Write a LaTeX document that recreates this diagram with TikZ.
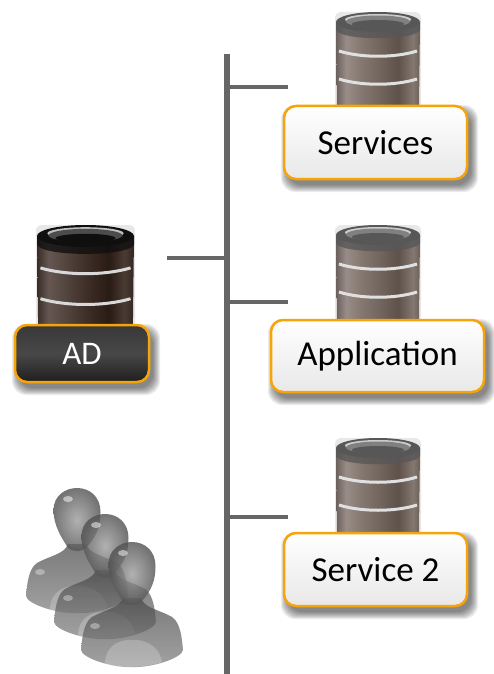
\documentclass[tikz,border=0pt]{standalone}
\usepackage{fontspec}
\setmainfont{Carlito}
\usetikzlibrary{calc}
\pgfdeclarehorizontalshading{cylLight}{100bp}{
 rgb(0bp)=(0.42,0.38,0.36);
 rgb(25bp)=(0.42,0.38,0.36);
 rgb(31bp)=(0.60,0.55,0.53);
 rgb(40bp)=(0.52,0.47,0.44);
 rgb(52bp)=(0.44,0.39,0.36);
 rgb(62bp)=(0.37,0.32,0.29);
 rgb(71bp)=(0.52,0.47,0.44);
 rgb(75bp)=(0.42,0.37,0.34);
 rgb(100bp)=(0.42,0.37,0.34)}
\pgfdeclarehorizontalshading{cylDark}{100bp}{
 rgb(0bp)=(0.2,0.16,0.14);
 rgb(25bp)=(0.22,0.18,0.16);
 rgb(31bp)=(0.40,0.34,0.32);
 rgb(40bp)=(0.32,0.27,0.24);
 rgb(52bp)=(0.23,0.17,0.14);
 rgb(62bp)=(0.16,0.11,0.08);
 rgb(70bp)=(0.29,0.23,0.20);
 rgb(75bp)=(0.20,0.15,0.13);
 rgb(100bp)=(0.20,0.15,0.13)}
\definecolor{tagline}{HTML}{F7A30A}
\definecolor{stem}{HTML}{666666}
\tikzset{
 x=1pt,y=-1pt,
 trunk/.style={draw=stem,line width=5.5pt},
 stub/.style={draw=stem,line width=4.5pt},
 taglight/.style={draw=tagline,line width=2.5pt,rounded corners=12pt,top color=white,bottom color=black!9,text=black,font=\fontsize{35}{40}\selectfont,inner sep=0pt},
 tagdark/.style={draw=tagline,line width=2.5pt,rounded corners=12pt,top color=black!78,bottom color=black!88,middle color=black!72,text=white,font=\fontsize{33}{38}\selectfont,inner sep=0pt},
 bandline/.style={draw=#1,line width=3pt}
}
% \cyl{left}{top}{width}{shading}{side}{rimdark}{rim}{band}
\newcommand{\cyl}[8]{
 \begin{scope}[shift={(#1,#2)},xscale=#3/84]
  \fill[black!25,opacity=.35,rounded corners=6pt] (-1,0) -- (-1,98) -- (85,98) -- (85,0) -- cycle;
  \shade[shading=#4] (0,11) -- (84,11) -- (83,95) -- (1,95) -- cycle;
  \fill[#5,opacity=.8] (0,10) -- (0,18) .. controls (5,29) and (79,29) .. (84,18) -- (84,10) -- cycle;
  \fill[#5] (42,10) ellipse[x radius=42,y radius=10];
  \fill[#7] (42,7.5) ellipse[x radius=33,y radius=5.5];
  \fill[#6] (42,9.5) ellipse[x radius=32,y radius=6];
  \fill[#5] (42,12) ellipse[x radius=26,y radius=4];
  \draw[bandline=#8] (3,39) .. controls (25,46) and (59,46) .. (81,39);
  \draw[bandline=#8] (3,67) .. controls (25,74) and (59,74) .. (81,67);
 \end{scope}
}
% \tagshadow{cx}{cy}{w}{h}
\newcommand{\tagshadow}[4]{
 \foreach \k in {7,6,...,0}{
  \fill[black,opacity=.075,rounded corners=14pt]
   (#1-#3/2+4-\k,#2-#4/2+6-\k) rectangle (#1+#3/2+4+\k,#2+#4/2+6+\k);
 }
}
\newcommand{\personfig}[2]{
 \begin{scope}[shift={(#1,#2)}]
  \shade[top color=black!72,bottom color=black!50,fill opacity=.72]
   (-9,56) .. controls (-12,66) and (-28,68) .. (-40,75)
   .. controls (-49,81) and (-50,98) .. (-51,108)
   .. controls (-50,116) and (-20,126) .. (0,125)
   .. controls (20,126) and (50,116) .. (51,108)
   .. controls (50,98) and (49,81) .. (40,75)
   .. controls (28,68) and (12,66) .. (9,56) -- cycle;
  \fill[white,opacity=.22] (-27,122) .. controls (-27,102) and (-10,97) .. (0,98) .. controls (10,97) and (27,102) .. (30,120) .. controls (14,126) and (-14,126) .. (-27,122) -- cycle;
  \fill[white,opacity=.35] (-37,84) ellipse[x radius=5,y radius=3];
  \shade[inner color=black!38,outer color=black!68,fill opacity=.8]
   (-23.5,22) .. controls (-23.5,8) and (-12,0) .. (0,0)
   .. controls (13,0) and (23.5,9) .. (23.5,24)
   .. controls (23.5,38) and (20,48) .. (9,60)
   .. controls (4,64) and (-4,64) .. (-9,60)
   .. controls (-15,50) and (-23.5,38) .. (-23.5,22) -- cycle;
  \fill[white,opacity=.5] (-9,11) ellipse[x radius=5,y radius=3];
 \end{scope}
}
\begin{document}
\begin{tikzpicture}
\useasboundingbox (0,0) rectangle (493,674);
\fill[white] (0,0) rectangle (493,674);
% connectors
\coordinate (trunkTop) at (227,54);
\coordinate (trunkEnd) at (227,674);
\coordinate (tapServices) at (227,87);
\coordinate (tapAD) at (227,258);
\coordinate (tapApp) at (227,302);
\coordinate (tapSvc) at (227,517);
\coordinate (endServices) at (288,87);
\coordinate (endAD) at (167,258);
\coordinate (endApp) at (288,302);
\coordinate (endSvc) at (288,517);
\draw[trunk] (trunkTop) -- (trunkEnd);
\draw[stub] (tapServices) -- (endServices);
\draw[stub] (tapAD) -- (endAD);
\draw[stub] (tapApp) -- (endApp);
\draw[stub] (tapSvc) -- (endSvc);
% cylinders
\cyl{336}{12}{84}{cylLight}{black!66}{black!50}{black!20}{white!88!black}
\cyl{336}{225}{84}{cylLight}{black!66}{black!50}{black!20}{white!88!black}
\cyl{336}{438}{84}{cylLight}{black!66}{black!50}{black!20}{white!88!black}
\begin{scope}[shift={(37,225)},yscale=1.1]
\cyl{0}{0}{97}{cylDark}{black!94}{black!70}{black!25}{white!85!black}
\end{scope}
% tags
\tagshadow{375.5}{142.5}{183}{73}
\tagshadow{377.5}{356}{213}{72}
\tagshadow{375.5}{569.5}{183}{73}
\tagshadow{82}{353.5}{134}{57}
\node[taglight,minimum width=183pt,minimum height=73pt] (services) at (375.5,142.5) {Services};
\node[taglight,minimum width=213pt,minimum height=72pt] (application) at (377.5,356) {Application};
\node[taglight,minimum width=183pt,minimum height=73pt] (service2) at (375.5,569.5) {Service 2};
\node[tagdark,minimum width=134pt,minimum height=57pt] (ad) at (82,353.5) {AD};
% people
\personfig{77}{488}
\personfig{105}{514}
\personfig{132}{542}
\end{tikzpicture}
\end{document}
